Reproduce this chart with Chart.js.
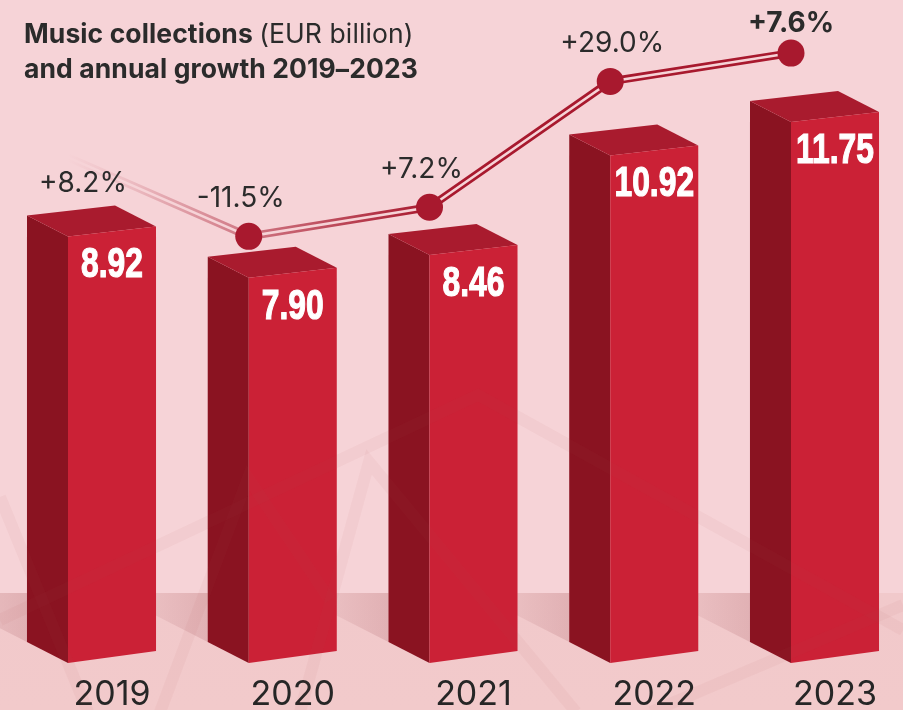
<!DOCTYPE html>
<html>
<head>
<meta charset="utf-8">
<script src="https://cdn.jsdelivr.net/npm/chart.js@4.4.1/dist/chart.umd.min.js"></script>
<style>
	html, body { margin: 0; padding: 0; background: #f6d3d7; }
	#wrap { position: relative; width: 903px; height: 710px; overflow: hidden; }
	#title {
		position: absolute; left: 24px; top: 16px;
		font-family: Inter, sans-serif; font-size: 26.5px; line-height: 35px;
		font-weight: 700; color: #2b2b2b; letter-spacing: 0.1px;
	}
	#title span { font-weight: 400; }
</style>
</head>
<body>
<div id="wrap">
	<canvas id="chart"></canvas>
	<div id="title">Music collections <span>(EUR billion)</span><br>and annual growth 2019–2023</div>
</div>
<script>
const years = ['2019', '2020', '2021', '2022', '2023'];
const collections = [8.92, 7.90, 8.46, 10.92, 11.75];
const growthText = ['+8.2%', '-11.5%', '+7.2%', '+29.0%', '+7.6%'];
// where the growth markers sit (EUR billion units)
const growthLevel = [10.75, 8.80, 9.52, 12.63, 13.33];

const lineRed = '168,25,46';
const wallPink = '#f6d3d7';

function poly(ctx, pts) {
	ctx.beginPath();
	ctx.moveTo(pts[0][0], pts[0][1]);
	for (let i = 1; i < pts.length; i++) ctx.lineTo(pts[i][0], pts[i][1]);
	ctx.closePath();
	ctx.fill();
}

function fadeStroke(context) {
	const chart = context.chart;
	if (!chart.chartArea) return `rgb(${lineRed})`;
	const xs = chart.scales.x;
	const p0 = xs.getPixelForValue(0), p1 = xs.getPixelForValue(1), p2 = xs.getPixelForValue(2);
	const g = chart.ctx.createLinearGradient(p0, 0, p2, 0);
	const a = 55 / (p2 - p0);
	const b = (p1 - p0) / (p2 - p0);
	g.addColorStop(0, `rgba(${lineRed},0)`);
	g.addColorStop(a, `rgba(${lineRed},0.1)`);
	g.addColorStop(b, `rgba(${lineRed},0.5)`);
	g.addColorStop(1, `rgba(${lineRed},1)`);
	return g;
}

const boxes = {
	id: 'boxes',
	beforeDraw(chart) {
		const { ctx, width, height, chartArea } = chart;
		const floorY = chartArea.bottom - 64;
		ctx.save();
		ctx.fillStyle = wallPink;
		ctx.fillRect(0, 0, width, height);
		const g = ctx.createLinearGradient(0, floorY, 0, height);
		g.addColorStop(0, '#f1c9cb');
		g.addColorStop(1, '#f2cacb');
		ctx.fillStyle = g;
		ctx.fillRect(0, floorY, width, height - floorY);
		ctx.restore();
	},
	beforeDatasetsDraw(chart) {
		const { ctx, chartArea } = chart;
		const xs = chart.scales.x;
		const step = xs.getPixelForValue(1) - xs.getPixelForValue(0);
		const fw = step * 0.487;
		const d = step * 0.227;
		const yb = chartArea.bottom;
		const bars = chart.getDatasetMeta(3).data;

		ctx.save();
		// floor shadows, cast back-left of each box
		bars.forEach((bar) => {
			const xsd = bar.x - d;
			const g = ctx.createLinearGradient(xsd - 96, 0, xsd, 0);
			g.addColorStop(0, 'rgba(140,50,60,0)');
			g.addColorStop(1, 'rgba(140,50,60,0.16)');
			ctx.fillStyle = g;
			poly(ctx, [[xsd, yb - 15], [xsd - 96, yb - 64], [xsd, yb - 64]]);
		});

		bars.forEach((bar, i) => {
			const x0 = bar.x;
			const yt = bar.y;
			ctx.fillStyle = '#8a1321';
			poly(ctx, [[x0, yt + 5], [x0 - d, yt - 16], [x0 - d, yb - 15], [x0, yb + 6]]);
			ctx.fillStyle = '#a91b2e';
			poly(ctx, [[x0, yt + 5], [x0 - d, yt - 16], [x0 - d + fw, yt - 26], [x0 + fw, yt - 5]]);
			ctx.fillStyle = '#cb2136';
			poly(ctx, [[x0, yt + 5], [x0 + fw, yt - 5], [x0 + fw, yb - 6], [x0, yb + 6]]);

			// condensed white value, squeezed horizontally
			ctx.save();
			ctx.translate(x0 + fw / 2, yt + 34);
			ctx.scale(0.74, 1);
			ctx.fillStyle = '#ffffff';
			ctx.strokeStyle = '#ffffff';
			ctx.lineWidth = 1.2;
			ctx.font = 'bold 43px "Liberation Sans", Arial, sans-serif';
			ctx.textAlign = 'center';
			ctx.textBaseline = 'middle';
			ctx.fillText(collections[i].toFixed(2), 0, 0);
			ctx.strokeText(collections[i].toFixed(2), 0, 0);
			ctx.restore();
		});

		// faint zigzag decoration in the background
		ctx.strokeStyle = 'rgba(170,70,80,0.05)';
		ctx.lineWidth = 12;
		[
			[[0, 497], [88, 712]],
			[[160, 712], [248, 478], [330, 600]],
			[[300, 712], [369, 462], [576, 712]],
			[[0, 620], [478, 395], [903, 630]],
			[[651, 712], [903, 605]]
		].forEach((z) => {
			ctx.beginPath();
			ctx.moveTo(z[0][0], z[0][1]);
			for (let k = 1; k < z.length; k++) ctx.lineTo(z[k][0], z[k][1]);
			ctx.stroke();
		});
		ctx.restore();
	},
	afterDatasetsDraw(chart) {
		const ctx = chart.ctx;
		const pts = chart.getDatasetMeta(0).data;
		ctx.save();
		ctx.fillStyle = '#2b2b2b';
		ctx.textAlign = 'center';
		ctx.textBaseline = 'middle';
		pts.forEach((p, i) => {
			let x = p.x - 8, y = p.y - 38;
			ctx.font = '400 28px Inter, sans-serif';
			if (i === 0) { x = p.x + 15; y = p.y + 26; }
			if (i === 3) { x = p.x + 2; }
			if (i === 4) { x = p.x; y = p.y - 30; ctx.font = '700 28px Inter, sans-serif'; }
			ctx.fillText(growthText[i], x, y);
		});
		ctx.restore();
	}
};

new Chart(document.getElementById('chart'), {
	type: 'bar',
	data: {
		labels: years,
		datasets: [
			{
				type: 'line',
				data: growthLevel,
				showLine: false,
				pointRadius: [0, 13.5, 13.5, 13.5, 13.5],
				pointBackgroundColor: `rgb(${lineRed})`,
				pointBorderWidth: 0,
				clip: false,
				order: 0
			},
			{
				type: 'line',
				data: growthLevel,
				borderColor: wallPink,
				borderWidth: 2.5,
				pointRadius: 0,
				tension: 0,
				clip: false,
				order: 1
			},
			{
				type: 'line',
				data: growthLevel,
				borderColor: fadeStroke,
				borderWidth: 8,
				pointRadius: 0,
				tension: 0,
				clip: false,
				order: 2
			},
			{
				type: 'bar',
				data: collections,
				backgroundColor: 'rgba(0,0,0,0)',
				order: 3
			}
		]
	},
	options: {
		responsive: true,
		maintainAspectRatio: false,
		animation: false,
		events: [],
		layout: { padding: { top: 26, left: 68, right: 112, bottom: 0 } },
		plugins: {
			legend: { display: false },
			tooltip: { enabled: false }
		},
		scales: {
			x: {
				offset: false,
				grid: { display: false, drawTicks: false },
				border: { display: false },
				ticks: {
					font: { family: 'Inter', size: 34 },
					color: '#262626',
					labelOffset: 44,
					padding: 17,
					autoSkip: false,
					maxRotation: 0
				},
				afterFit(scale) { scale.height = 53; }
			},
			y: {
				display: false,
				min: -1.6,
				max: 14
			}
		}
	},
	plugins: [boxes]
});
</script>
</body>
</html>
